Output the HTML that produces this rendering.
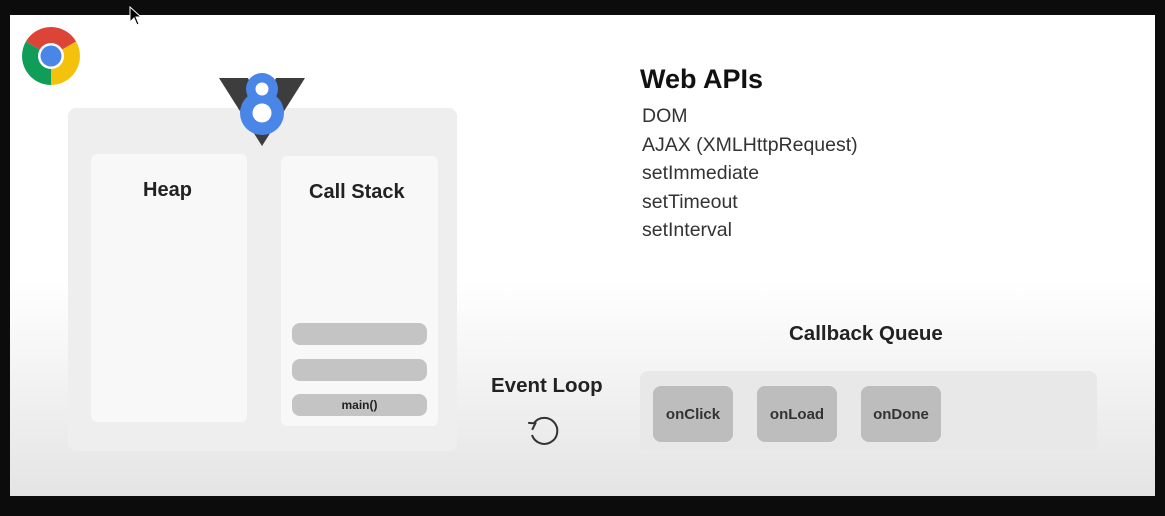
<!DOCTYPE html>
<html><head><style>
body{margin:0;width:1165px;height:516px;background:#0c0c0c;position:relative;overflow:hidden;font-family:"Liberation Sans",sans-serif}
.a{position:absolute}
#stage{left:10px;top:15px;width:1145px;height:481px;background:linear-gradient(#fff 0%,#fff 55%,#e4e4e4 100%)}
.t{position:absolute;font-weight:bold;color:#222;white-space:nowrap}
.bar{position:absolute;left:292px;width:135px;height:22px;background:#c4c4c4;border-radius:8px;font-size:12px;font-weight:bold;text-align:center;line-height:22px;color:#222}
.cb{position:absolute;top:386px;width:80px;height:56px;background:#bdbdbd;border-radius:8px;font-size:15px;font-weight:bold;color:#333;text-align:center;line-height:58px}
.api{position:absolute;left:642px;font-size:19.5px;color:#333}
</style></head><body>
<div class="a" id="stage"></div>
<svg class="a" style="left:22px;top:27px" width="58" height="58" viewBox="0 0 58 58">
<path d="M29 29 L29 0 A29 29 0 0 1 54.1 14.5 Z" fill="#db4437"/>
<path d="M29 29 L54.1 14.5 A29 29 0 0 1 29 58 Z" fill="#f4c20d"/>
<path d="M29 29 L29 58 A29 29 0 0 1 3.9 14.5 Z" fill="#0f9d58"/>
<path d="M29 29 L3.9 14.5 A29 29 0 0 1 29 0 Z" fill="#db4437"/>
<circle cx="29" cy="29" r="13" fill="#fff"/><circle cx="29" cy="29" r="10.5" fill="#4a86e8"/>
</svg>
<div class="a" style="left:68px;top:108px;width:389px;height:343px;background:#eeeeee;border-radius:8px"></div>
<div class="a" style="left:91px;top:154px;width:156px;height:268px;background:#f8f8f8;border-radius:6px"></div>
<div class="a" style="left:281px;top:156px;width:157px;height:270px;background:#f8f8f8;border-radius:6px"></div>
<svg class="a" style="left:218px;top:68px" width="88" height="80" viewBox="0 0 88 80">
<path d="M1 10 L30 10 L44 40 L58 10 L87 10 L44 78 Z" fill="#3d3d3d"/>
<circle cx="44" cy="21" r="16" fill="#4a86e8"/>
<circle cx="44" cy="45" r="22" fill="#4a86e8"/>
<circle cx="44" cy="21" r="6.5" fill="#fff"/><circle cx="44" cy="45" r="9.5" fill="#fff"/>
</svg>
<div class="t" style="left:143px;top:179px;font-size:20px">Heap</div>
<div class="t" style="left:309px;top:181px;font-size:20px">Call Stack</div>
<div class="bar" style="top:323px"></div>
<div class="bar" style="top:359px"></div>
<div class="bar" style="top:394px">main()</div>
<div class="t" style="left:491px;top:374px;font-size:20.5px">Event Loop</div>
<svg class="a" style="left:526px;top:413px" width="40" height="36" viewBox="0 0 40 36">
<path d="M8 10 A13 13 0 1 1 6 22" fill="none" stroke="#333" stroke-width="2"/>
<path d="M3 7 L9 11 L3 15" fill="none" stroke="#333" stroke-width="2" transform="rotate(-30 8 10)"/>
</svg>
<div class="t" style="left:640px;top:64px;font-size:27px;color:#111">Web APIs</div>
<div class="api" style="top:105px">DOM</div>
<div class="api" style="top:134px">AJAX (XMLHttpRequest)</div>
<div class="api" style="top:162px">setImmediate</div>
<div class="api" style="top:191px">setTimeout</div>
<div class="api" style="top:219px">setInterval</div>
<div class="t" style="left:789px;top:322px;font-size:20.5px">Callback Queue</div>
<div class="a" style="left:640px;top:371px;width:457px;height:79px;background:#e8e8e8;border-radius:8px"></div>
<div class="cb" style="left:653px">onClick</div>
<div class="cb" style="left:757px">onLoad</div>
<div class="cb" style="left:861px">onDone</div>
<svg class="a" style="left:129px;top:6px" width="14" height="22"><path d="M1 1 L1 16 L5 12 L8 19 L10 18 L7 11 L12 11 Z" fill="#000" stroke="#fff" stroke-width="1"/></svg>
</body></html>
